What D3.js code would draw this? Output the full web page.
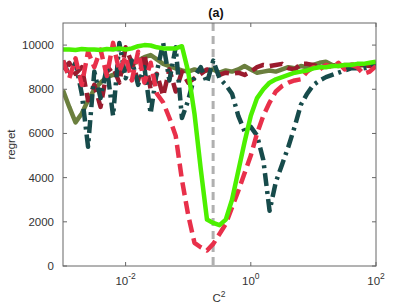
<!DOCTYPE html>
<html><head><meta charset="utf-8">
<script src="https://cdn.jsdelivr.net/npm/d3@7"></script>
<style>body{margin:0;background:#fff}svg{display:block}text{font-family:"Liberation Sans",Arial,sans-serif}</style>
</head><body><div id="chart"></div>
<script>
// C^2 sample positions (log10), -3 .. 2 step 0.1
const logC = d3.range(0, 51).map(i => -3 + i * 0.1);
const xTicks = [1e-2, 1e0, 1e2];
const xTickLabels = ["-2", "0", "2"];
const yTicks = [0, 2000, 4000, 6000, 8000, 10000];
const refC = 0.25;
const title = "(a)";

const olive = [7950,7200,6500,6900,7500,8000,8300,8550,8650,8700,8900,9100,9300,9450,9550,9350,9150,9050,8950,8850,8800,8900,8800,8850,8900,8750,8850,8800,8900,9050,8900,8750,8800,8850,8800,8900,9000,8950,9050,9000,9100,9200,9250,9100,9050,9100,9100,9050,9100,9100,9150];
const darkRed = [8900,9200,8700,9000,7500,8200,7200,8800,9000,8300,9900,9200,8400,9600,8000,8700,7700,8900,7900,8800,8300,8500,8700,8900,8800,8650,8750,8700,8750,8650,8800,9000,9100,9050,9100,9150,8950,8900,9150,9150,9100,9000,9050,9050,9100,9050,9100,9150,9100,9050,9100];
const teal = [9300,8600,9200,7800,5400,8800,7600,9000,6800,10100,8500,9300,8200,9000,6900,8800,10100,8400,9900,6700,7500,8600,9000,8300,9300,8500,8200,7800,6800,6100,6300,5900,4800,2500,3800,4600,5400,6300,7300,7800,8200,8400,8550,8650,8750,8850,8950,8950,8950,9000,9200];
const red = [9300,8500,9400,8200,9700,9000,9800,8600,10100,8800,9500,8400,9700,8300,9200,7800,7400,6700,5900,3900,2300,1050,850,700,1000,1450,1900,2650,3400,4200,5000,6000,6800,7400,7900,8150,8300,8400,8450,8800,9000,8900,9100,9000,9200,8900,9100,9000,8700,8800,9050];
const green = [9800,9800,9780,9820,9800,9800,9780,9820,9800,9850,9800,9850,9950,10000,9980,9900,9850,9850,9850,9950,8800,6900,4400,2100,1950,1850,2100,3000,4300,5600,6800,7600,8000,8300,8450,8550,8650,8750,8800,8850,8950,9000,9000,9050,9050,9100,9100,9150,9150,9200,9250];

const series = [
  {name:"olive", values: olive, color:"#6b7f3e", dash:null},
  {name:"darkRed", values: darkRed, color:"#9b1b2e", dash:"13,6"},
  {name:"teal", values: teal, color:"#174b4b", dash:"13,5,3,5"},
  {name:"red", values: red, color:"#e8304a", dash:"13,6"},
  {name:"green", values: green, color:"#4cf000", dash:null}
];

const W = 415, H = 307;
const L = 63, R = 376, T = 23, B = 266;
const svg = d3.select("#chart").append("svg").attr("width", W).attr("height", H);
const x = d3.scaleLog().domain([1e-3, 1e2]).range([L, R]);
const y = d3.scaleLinear().domain([0, 11000]).range([B, T]);

svg.append("clipPath").attr("id","clip").append("rect")
  .attr("x", L).attr("y", T).attr("width", R - L).attr("height", B - T);

const plot = svg.append("g").attr("clip-path","url(#clip)");

// reference dashed line
plot.append("line").attr("x1", x(refC)).attr("x2", x(refC)).attr("y1", T).attr("y2", B)
  .attr("stroke", "#b0b0b0").attr("stroke-width", 3).attr("stroke-dasharray", "8,5");

const line = d3.line().x((d, i) => x(Math.pow(10, logC[i]))).y(d => y(d));
series.forEach(s => {
  plot.append("path").datum(s.values).attr("d", line)
    .attr("fill", "none").attr("stroke", s.color).attr("stroke-width", 4.5)
    .attr("stroke-linejoin", "round")
    .attr("stroke-dasharray", s.dash);
});

// box
const axisColor = "#666";
svg.append("rect").attr("x", L).attr("y", T).attr("width", R - L).attr("height", B - T)
  .attr("fill", "none").attr("stroke", axisColor).attr("stroke-width", 1);

const tl = 4;
xTicks.forEach((t, i) => {
  const px = x(t);
  svg.append("line").attr("x1", px).attr("x2", px).attr("y1", B).attr("y2", B - tl).attr("stroke", axisColor);
  svg.append("line").attr("x1", px).attr("x2", px).attr("y1", T).attr("y2", T + tl).attr("stroke", axisColor);
  const g = svg.append("text").attr("x", px).attr("y", 285).attr("text-anchor", "middle")
    .attr("font-size", 11.5).attr("fill", "#333");
  g.append("tspan").text("10");
  g.append("tspan").attr("dy", -6).attr("font-size", 8.5).text(xTickLabels[i]);
});
yTicks.forEach(t => {
  const py = y(t);
  svg.append("line").attr("x1", L).attr("x2", L + tl).attr("y1", py).attr("y2", py).attr("stroke", axisColor);
  svg.append("line").attr("x1", R).attr("x2", R - tl).attr("y1", py).attr("y2", py).attr("stroke", axisColor);
  svg.append("text").attr("x", 54).attr("y", py + 4).attr("text-anchor", "end")
    .attr("font-size", 11.5).attr("fill", "#333").text(t);
});

svg.append("text").attr("transform", "translate(11," + ((T + B) / 2) + ") rotate(-90)")
  .attr("text-anchor", "middle").attr("dy", "0.35em").attr("font-size", 11.5).attr("fill", "#333").text("regret");
const xl = svg.append("text").attr("x", 219).attr("y", 302).attr("text-anchor", "middle")
  .attr("font-size", 11.5).attr("fill", "#333");
xl.append("tspan").text("C");
xl.append("tspan").attr("dy", -5).attr("font-size", 8.5).text("2");
svg.append("text").attr("x", 216).attr("y", 17).attr("text-anchor", "middle")
  .attr("font-size", 12.5).attr("font-weight", "bold").attr("fill", "#111").text(title);
</script></body></html>
